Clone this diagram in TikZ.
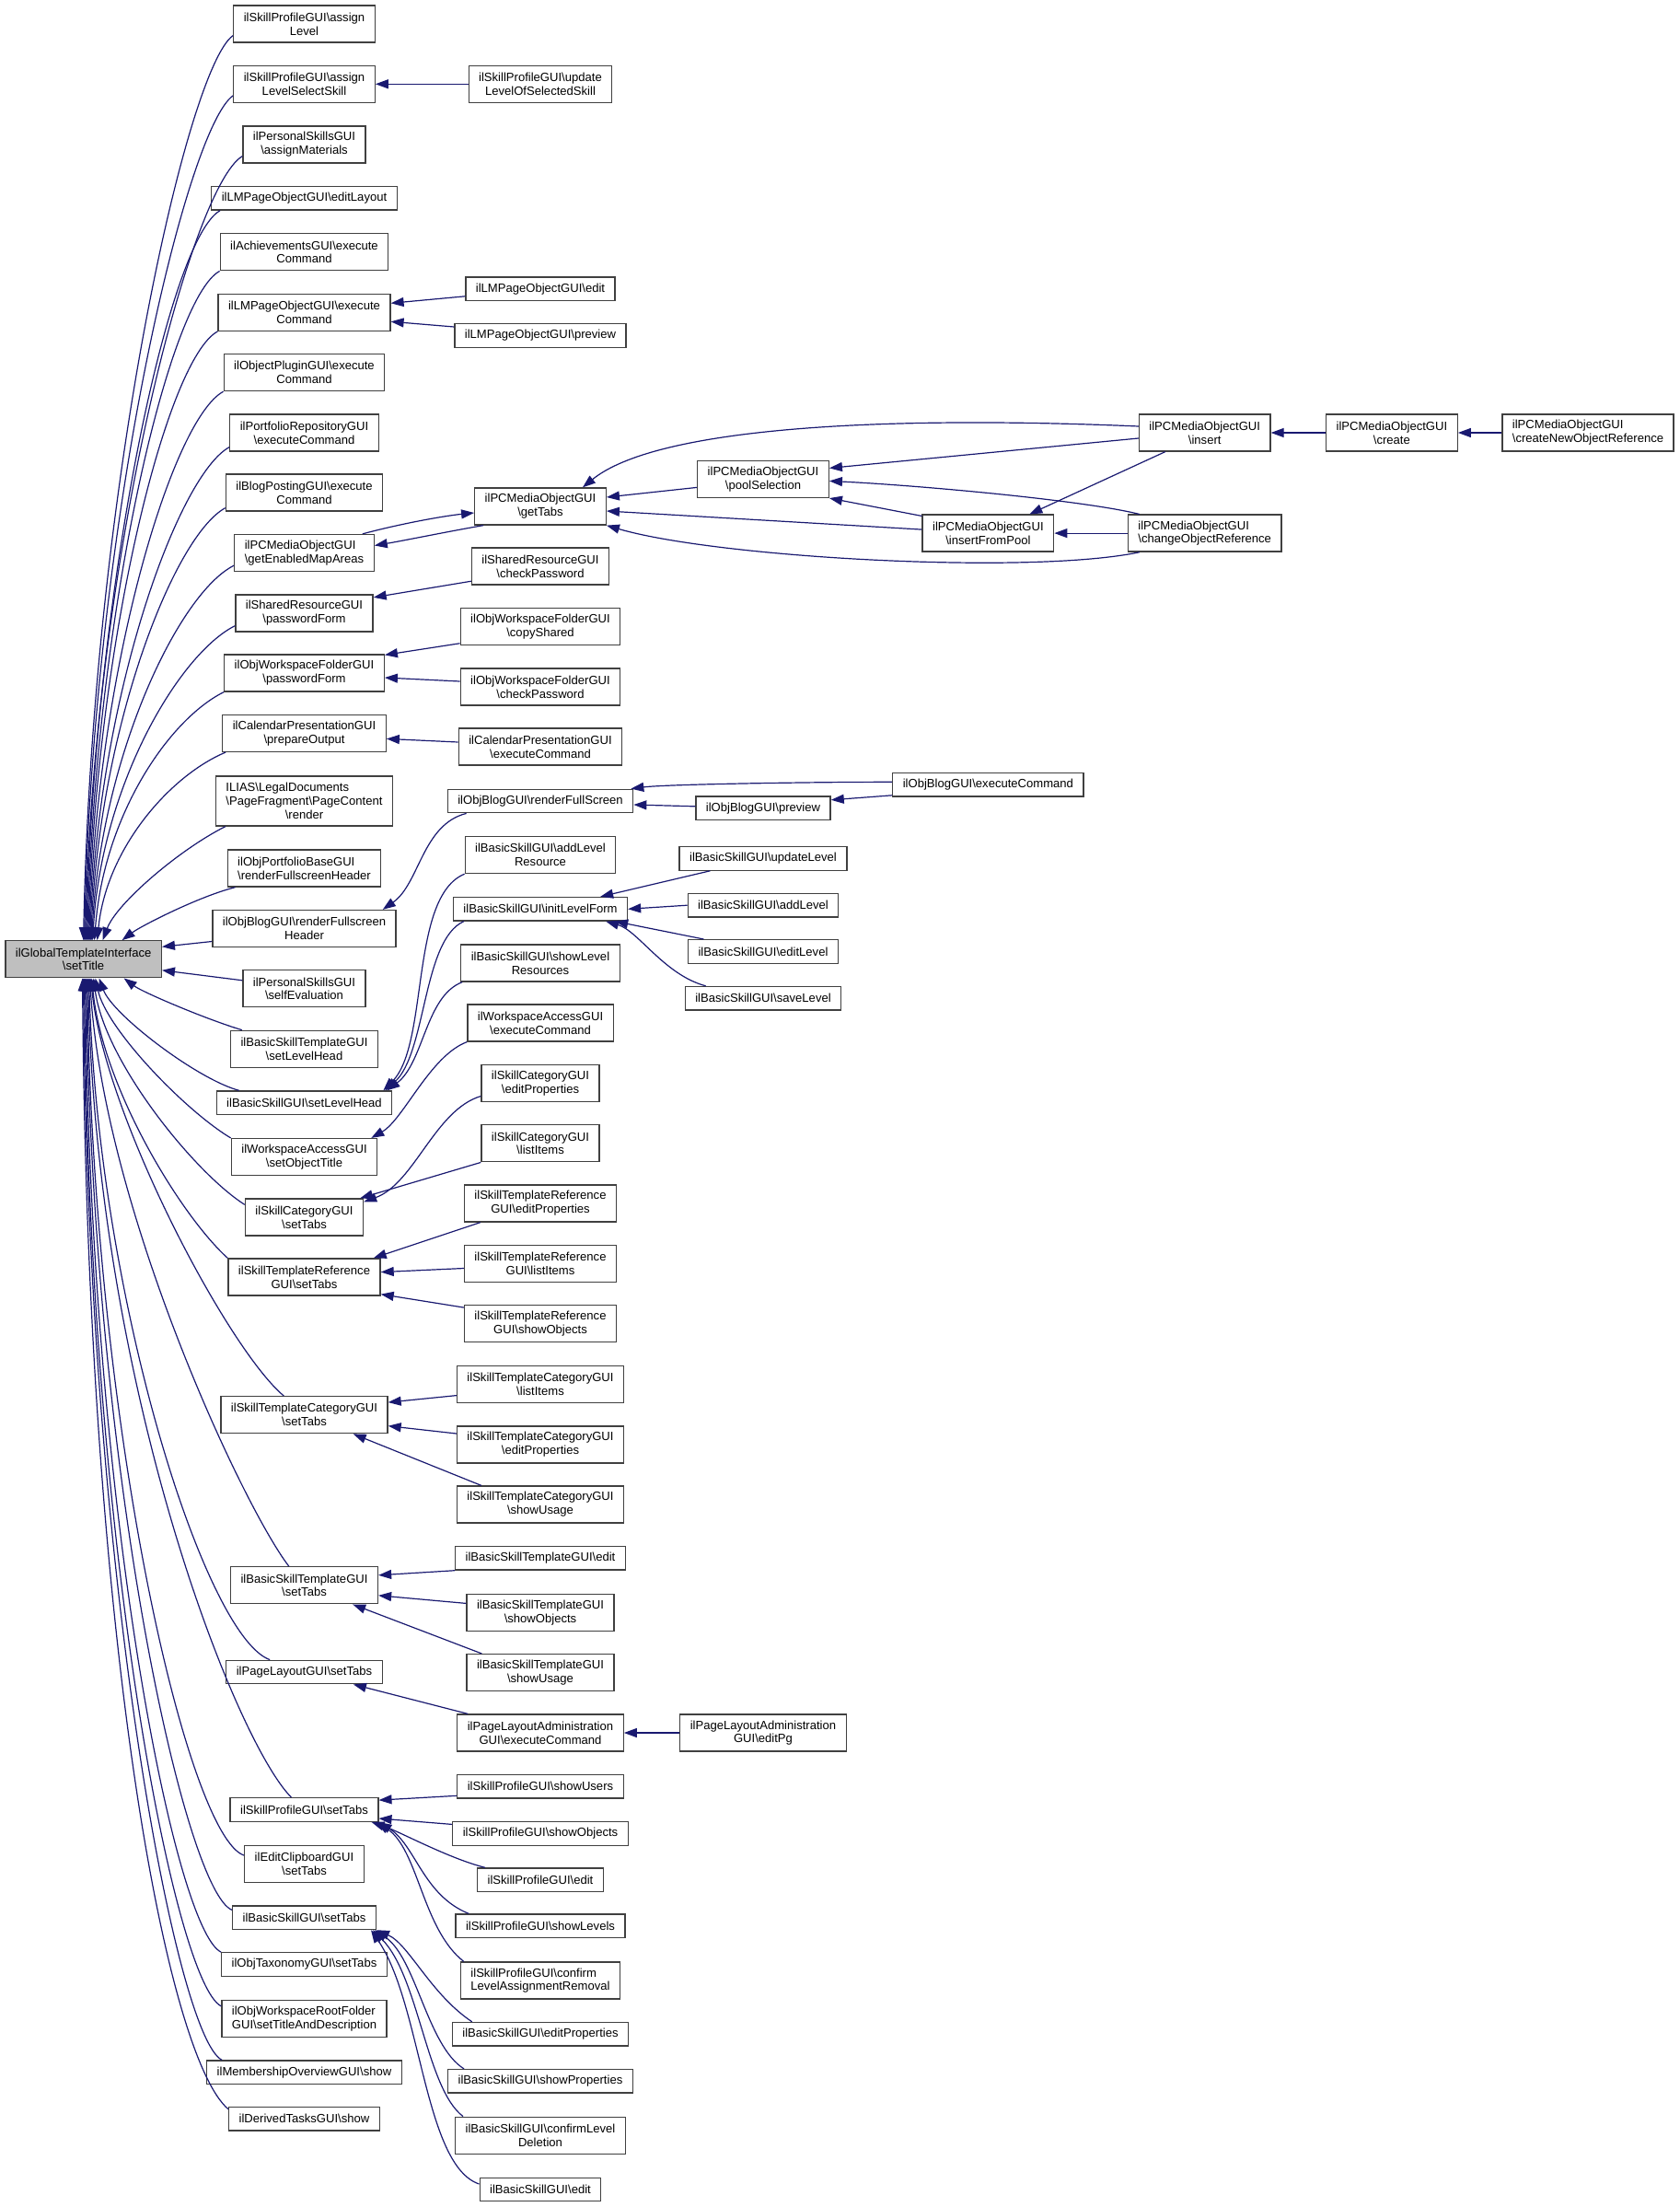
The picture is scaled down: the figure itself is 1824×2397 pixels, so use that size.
\documentclass[tikz,border=0pt]{standalone}
\usepackage{fontspec}
\setmainfont{Liberation Sans}
\usetikzlibrary{arrows.meta}

\definecolor{edgeblue}{RGB}{25,25,112}
\definecolor{rootgray}{RGB}{191,191,191}
\newcommand{\bsl}{\textbackslash}

\tikzset{
	fn/.style={draw=black!75, line width=1.3pt, fill=white, inner xsep=11pt, inner ysep=2pt,
		minimum height=25.5pt, align=center, font=\fontsize{13.07}{14.8}\selectfont},
	tall/.style={minimum height=40pt},
	taller/.style={minimum height=54pt},
	call/.style={edgeblue, line width=1.2pt, {Triangle[length=14pt,width=10pt]}-}
}

\begin{document}
\begin{tikzpicture}[x=1pt,y=-1pt]
		\useasboundingbox (0,0) rectangle (1824,2397);

		% the function that is called
		\node[fn,tall,fill=rootgray] (root) at (90.6,1041.8) {ilGlobalTemplateInterface\\\bsl setTitle};

		% direct callers
		\node[fn,tall] (assignLevel) at (330.5,26) {ilSkillProfileGUI\bsl assign\\Level};
		\node[fn,tall] (assignSelect) at (330.5,91.3) {ilSkillProfileGUI\bsl assign\\LevelSelectSkill};
		\node[fn,tall] (assignMat) at (330.5,157) {ilPersonalSkillsGUI\\\bsl assignMaterials};
		\node[fn] (editLayout) at (330.5,215.3) {ilLMPageObjectGUI\bsl editLayout};
		\node[fn,tall] (achExec) at (330.5,273.8) {ilAchievementsGUI\bsl execute\\Command};
		\node[fn,tall] (lmExec) at (330.5,339.3) {ilLMPageObjectGUI\bsl execute\\Command};
		\node[fn,tall] (pluginExec) at (330.5,404.6) {ilObjectPluginGUI\bsl execute\\Command};
		\node[fn,tall] (portRepoExec) at (330.5,470) {ilPortfolioRepositoryGUI\\\bsl executeCommand};
		\node[fn,tall] (blogPostExec) at (330.5,535) {ilBlogPostingGUI\bsl execute\\Command};
		\node[fn,tall,align=left] (mapAreas) at (330.5,600.5) {ilPCMediaObjectGUI\\\bsl getEnabledMapAreas};
		\node[fn,tall] (sharedPwForm) at (330.5,666) {ilSharedResourceGUI\\\bsl passwordForm};
		\node[fn,tall] (wsPwForm) at (330.5,731) {ilObjWorkspaceFolderGUI\\\bsl passwordForm};
		\node[fn,tall] (calPrepare) at (330.5,796.4) {ilCalendarPresentationGUI\\\bsl prepareOutput};
		\node[fn,taller] (legalRender) at (330.5,870) {\rlap{ILIAS\bsl LegalDocuments}\phantom{\bsl PageFragment\bsl PageContent}\\\bsl PageFragment\bsl PageContent\\\bsl render};
		\node[fn,tall,align=left] (portHeader) at (330.5,943) {ilObjPortfolioBaseGUI\\\bsl renderFullscreenHeader};
		\node[fn,tall] (blogHeader) at (330.5,1008.5) {ilObjBlogGUI\bsl renderFullscreen\\Header};
		\node[fn,tall] (selfEval) at (330.5,1073.8) {ilPersonalSkillsGUI\\\bsl selfEvaluation};
		\node[fn,tall] (tplLevelHead) at (330.5,1139.3) {ilBasicSkillTemplateGUI\\\bsl setLevelHead};
		\node[fn] (levelHead) at (330.5,1197.7) {ilBasicSkillGUI\bsl setLevelHead};
		\node[fn,tall] (wsTitle) at (330.5,1256.6) {ilWorkspaceAccessGUI\\\bsl setObjectTitle};
		\node[fn,tall] (catTabs) at (330.5,1322) {ilSkillCategoryGUI\\\bsl setTabs};
		\node[fn,tall] (refTabs) at (330.5,1387) {ilSkillTemplateReference\\GUI\bsl setTabs};
		\node[fn,tall] (tcatTabs) at (330.5,1536.7) {ilSkillTemplateCategoryGUI\\\bsl setTabs};
		\node[fn,tall] (tplTabs) at (330.5,1721.8) {ilBasicSkillTemplateGUI\\\bsl setTabs};
		\node[fn] (layoutTabs) at (330.5,1816) {ilPageLayoutGUI\bsl setTabs};
		\node[fn] (profTabs) at (330.5,1965.5) {ilSkillProfileGUI\bsl setTabs};
		\node[fn,tall] (clipTabs) at (330.5,2024.7) {ilEditClipboardGUI\\\bsl setTabs};
		\node[fn] (skillTabs) at (330.5,2082.8) {ilBasicSkillGUI\bsl setTabs};
		\node[fn] (taxTabs) at (330.5,2133.5) {ilObjTaxonomyGUI\bsl setTabs};
		\node[fn,tall,align=left] (rootFolder) at (330.5,2192.5) {ilObjWorkspaceRootFolder\\GUI\bsl setTitleAndDescription};
		\node[fn] (membership) at (330.5,2250.7) {ilMembershipOverviewGUI\bsl show};
		\node[fn] (derived) at (330.5,2301.2) {ilDerivedTasksGUI\bsl show};

		% second rank
		\node[fn,tall] (updateSel) at (587,91.3) {ilSkillProfileGUI\bsl update\\LevelOfSelectedSkill};
		\node[fn] (lmEdit) at (587,313.8) {ilLMPageObjectGUI\bsl edit};
		\node[fn] (lmPreview) at (587,364.5) {ilLMPageObjectGUI\bsl preview};
		\node[fn,tall] (getTabs) at (587,550) {ilPCMediaObjectGUI\\\bsl getTabs};
		\node[fn,tall] (sharedCheck) at (587,615) {ilSharedResourceGUI\\\bsl checkPassword};
		\node[fn,tall] (wsCopy) at (587,680.6) {ilObjWorkspaceFolderGUI\\\bsl copyShared};
		\node[fn,tall] (wsCheck) at (587,746) {ilObjWorkspaceFolderGUI\\\bsl checkPassword};
		\node[fn,tall] (calExec) at (587,811) {ilCalendarPresentationGUI\\\bsl executeCommand};
		\node[fn] (renderFull) at (587,870) {ilObjBlogGUI\bsl renderFullScreen};
		\node[fn,tall] (addLevelRes) at (587,928.6) {ilBasicSkillGUI\bsl addLevel\\Resource};
		\node[fn] (initForm) at (587,987.3) {ilBasicSkillGUI\bsl initLevelForm};
		\node[fn,tall] (showLevelRes) at (587,1046) {ilBasicSkillGUI\bsl showLevel\\Resources};
		\node[fn,tall] (wsExec) at (587,1111) {ilWorkspaceAccessGUI\\\bsl executeCommand};
		\node[fn,tall] (catEdit) at (587,1176.5) {ilSkillCategoryGUI\\\bsl editProperties};
		\node[fn,tall] (catList) at (587,1241.8) {ilSkillCategoryGUI\\\bsl listItems};
		\node[fn,tall] (refEdit) at (587,1307) {ilSkillTemplateReference\\GUI\bsl editProperties};
		\node[fn,tall] (refList) at (587,1372.5) {ilSkillTemplateReference\\GUI\bsl listItems};
		\node[fn,tall] (refShow) at (587,1437.7) {ilSkillTemplateReference\\GUI\bsl showObjects};
		\node[fn,tall] (tcatList) at (587,1503.6) {ilSkillTemplateCategoryGUI\\\bsl listItems};
		\node[fn,tall] (tcatEdit) at (587,1569) {ilSkillTemplateCategoryGUI\\\bsl editProperties};
		\node[fn,tall] (tcatUsage) at (587,1634) {ilSkillTemplateCategoryGUI\\\bsl showUsage};
		\node[fn] (tplEdit) at (587,1692.3) {ilBasicSkillTemplateGUI\bsl edit};
		\node[fn,tall] (tplShow) at (587,1751.4) {ilBasicSkillTemplateGUI\\\bsl showObjects};
		\node[fn,tall] (tplUsage) at (587,1816.6) {ilBasicSkillTemplateGUI\\\bsl showUsage};
		\node[fn,tall] (layoutExec) at (587,1882) {ilPageLayoutAdministration\\GUI\bsl executeCommand};
		\node[fn] (profUsers) at (587,1940.3) {ilSkillProfileGUI\bsl showUsers};
		\node[fn] (profObjects) at (587,1991.4) {ilSkillProfileGUI\bsl showObjects};
		\node[fn] (profEdit) at (587,2041.7) {ilSkillProfileGUI\bsl edit};
		\node[fn] (profLevels) at (587,2091.8) {ilSkillProfileGUI\bsl showLevels};
		\node[fn,tall,align=left] (profConfirm) at (587,2151) {ilSkillProfileGUI\bsl confirm\\LevelAssignmentRemoval};
		\node[fn] (skillEditProps) at (587,2209.2) {ilBasicSkillGUI\bsl editProperties};
		\node[fn] (skillShowProps) at (587,2260.3) {ilBasicSkillGUI\bsl showProperties};
		\node[fn,tall] (skillConfirm) at (587,2319.2) {ilBasicSkillGUI\bsl confirmLevel\\Deletion};
		\node[fn] (skillEdit) at (587,2378) {ilBasicSkillGUI\bsl edit};

		% further ranks
		\node[fn,tall] (poolSel) at (829,520.4) {ilPCMediaObjectGUI\\\bsl poolSelection};
		\node[fn] (blogPreview) at (829,877.8) {ilObjBlogGUI\bsl preview};
		\node[fn] (updateLevel) at (829,932.4) {ilBasicSkillGUI\bsl updateLevel};
		\node[fn] (addLevel) at (829,983.2) {ilBasicSkillGUI\bsl addLevel};
		\node[fn] (editLevel) at (829,1033.4) {ilBasicSkillGUI\bsl editLevel};
		\node[fn] (saveLevel) at (829,1084.2) {ilBasicSkillGUI\bsl saveLevel};
		\node[fn,tall] (layoutEditPg) at (829,1882) {ilPageLayoutAdministration\\GUI\bsl editPg};
		\node[fn,tall] (insertPool) at (1073.4,579.1) {ilPCMediaObjectGUI\\\bsl insertFromPool};
		\node[fn] (blogExec) at (1073.4,852.3) {ilObjBlogGUI\bsl executeCommand};
		\node[fn,tall] (insert) at (1308.7,470) {ilPCMediaObjectGUI\\\bsl insert};
		\node[fn,tall,align=left] (changeRef) at (1308.7,579.1) {ilPCMediaObjectGUI\\\bsl changeObjectReference};
		\node[fn,tall] (create) at (1511.9,470) {ilPCMediaObjectGUI\\\bsl create};
		\node[fn,tall,align=left] (createRef) at (1725,470) {ilPCMediaObjectGUI\\\bsl createNewObjectReference};

		% callers above the root
		\draw[call] ([xshift=0]root.north) .. controls +(10,-490) and +(-50,35) .. ([yshift=8]assignLevel.south west);
		\draw[call] ([xshift=1]root.north) .. controls +(10,-460) and +(-50,35) .. ([yshift=8]assignSelect.south west);
		\draw[call] ([xshift=2]root.north) .. controls +(10,-420) and +(-55,32) .. ([yshift=8]assignMat.south west);
		\draw[call] ([xshift=3]root.north) .. controls +(10,-390) and +(-55,30) .. ([xshift=10]editLayout.south west);
		\draw[call] ([xshift=4]root.north) .. controls +(10,-360) and +(-55,30) .. (achExec.south west);
		\draw[call] ([xshift=5]root.north) .. controls +(10,-330) and +(-55,30) .. (lmExec.south west);
		\draw[call] ([xshift=6]root.north) .. controls +(10,-300) and +(-55,30) .. (pluginExec.south west);
		\draw[call] ([xshift=7]root.north) .. controls +(10,-270) and +(-55,30) .. ([yshift=5]portRepoExec.south west);
		\draw[call] ([xshift=8]root.north) .. controls +(10,-235) and +(-55,30) .. ([yshift=4]blogPostExec.south west);
		\draw[call] ([xshift=9]root.north) .. controls +(10,-200) and +(-60,30) .. ([yshift=7]mapAreas.south west);
		\draw[call] ([xshift=10]root.north) .. controls +(10,-170) and +(-60,30) .. ([yshift=7]sharedPwForm.south west);
		\draw[call] ([xshift=12]root.north) .. controls +(10,-135) and +(-60,30) .. (wsPwForm.south west);
		\draw[call] ([xshift=15]root.north) .. controls +(10,-100) and +(-60,25) .. ([xshift=4]calPrepare.south west);
		\draw[call] ([xshift=21]root.north) .. controls +(15,-40) and +(-50,25) .. ([xshift=11]legalRender.south west);
		\draw[call] ([xshift=42]root.north) .. controls +(20,-15) and +(-40,10) .. ([xshift=9]portHeader.south west);

		% callers beside the root
		\draw[call] ([yshift=13.5]root.east) -- ([yshift=-14]blogHeader.west);
		\draw[call] ([yshift=-12]root.east) -- ([yshift=9]selfEval.west);

		% callers below the root
		\draw[call] ([xshift=44]root.south) .. controls +(20,15) and +(-40,-12) .. ([xshift=13]tplLevelHead.north west);
		\draw[call] ([xshift=17]root.south) .. controls +(15,40) and +(-45,-12) .. ([xshift=25]levelHead.north west);
		\draw[call] ([xshift=13]root.south) .. controls +(12,55) and +(-50,-30) .. (wsTitle.north west);
		\draw[call] ([xshift=11]root.south) .. controls +(12,90) and +(-55,-35) .. ([yshift=-7]catTabs.north west);
		\draw[call] ([xshift=9]root.south) .. controls +(12,120) and +(-50,-45) .. (refTabs.north west);
		\draw[call] ([xshift=8]root.south) .. controls +(15,150) and +(-60,-50) .. ([xshift=69]tcatTabs.north west);
		\draw[call] ([xshift=7]root.south) .. controls +(15,250) and +(-50,-65) .. ([xshift=64]tplTabs.north west);
		\draw[call] ([xshift=6]root.south) .. controls +(10,350) and +(-70,-25) .. ([xshift=48]layoutTabs.north west);
		\draw[call] ([xshift=5]root.south) .. controls +(10,450) and +(-60,-60) .. ([xshift=67]profTabs.north west);
		\draw[call] ([xshift=4]root.south) .. controls +(8,500) and +(-60,-20) .. ([yshift=-11]clipTabs.north west);
		\draw[call] ([xshift=3]root.south) .. controls +(8,550) and +(-50,-20) .. ([yshift=-5]skillTabs.north west);
		\draw[call] ([xshift=2]root.south) .. controls +(6,580) and +(-50,-25) .. (taxTabs.north west);
		\draw[call] ([xshift=1]root.south) .. controls +(5,620) and +(-50,-25) .. ([yshift=-7]rootFolder.north west);
		\draw[call] ([xshift=0]root.south) .. controls +(5,650) and +(-50,-25) .. ([xshift=17]membership.north west);
		\draw[call] ([xshift=-1]root.south) .. controls +(5,700) and +(-70,-60) .. ([yshift=-3]derived.north west);

		% second rank to first rank
		\draw[call] (assignSelect.east) -- (updateSel.west);
		\draw[call] ([yshift=10]lmExec.east) -- ([yshift=-8]lmEdit.west);
		\draw[call] ([yshift=-10]lmExec.east) -- ([yshift=9.5]lmPreview.west);
		\draw[call] ([yshift=-7]getTabs.west) .. controls +(-30,3) and +(45,-12) .. ([xshift=-13]mapAreas.north east);
		\draw[call] ([yshift=8]mapAreas.east) .. controls +(30,-5) and +(-30,5) .. ([xshift=10]getTabs.south west);
		\draw[call] ([yshift=-3.5]sharedPwForm.north east) -- ([yshift=4.4]sharedCheck.south west);
		\draw[call] ([yshift=-1]wsPwForm.north east) -- ([yshift=2.5]wsCopy.south west);
		\draw[call] ([yshift=-5]wsPwForm.east) -- ([yshift=6]wsCheck.west);
		\draw[call] ([yshift=-6]calPrepare.east) -- ([yshift=5]calExec.west);
		\draw[call] ([xshift=-15]blogHeader.north east) .. controls +(40,-28) and +(-48,12) .. ([xshift=21]renderFull.south west);
		\draw[call] ([xshift=-10]levelHead.north east) .. controls +(50,-50) and +(-60,25) .. (addLevelRes.south west);
		\draw[call] ([xshift=-8]levelHead.north east) .. controls +(45,-40) and +(-45,20) .. ([xshift=12]initForm.south west);
		\draw[call] ([xshift=-6]levelHead.north east) .. controls +(40,-30) and +(-40,15) .. ([xshift=2]showLevelRes.south west);
		\draw[call] ([xshift=-7]wsTitle.north east) .. controls +(35,-20) and +(-40,15) .. (wsExec.south west);
		\draw[call] ([yshift=-4]catTabs.north east) .. controls +(55,-20) and +(-50,15) .. ([yshift=-14]catEdit.west);
		\draw[call] ([xshift=-4]catTabs.north east) -- (catList.south west);
		\draw[call] ([xshift=-8]refTabs.north east) -- ([xshift=18]refEdit.south west);
		\draw[call] ([yshift=5.4]refTabs.east) -- ([yshift=-5]refList.west);
		\draw[call] ([yshift=2]refTabs.south east) -- ([yshift=-3]refShow.north west);
		\draw[call] ([yshift=-7]tcatTabs.north east) -- ([yshift=-12]tcatList.west);
		\draw[call] ([yshift=-12]tcatTabs.east) -- ([yshift=12]tcatEdit.west);
		\draw[call] ([xshift=-38]tcatTabs.south east) -- ([xshift=27]tcatUsage.north west);
		\draw[call] ([yshift=11]tplTabs.east) -- (tplEdit.south west);
		\draw[call] ([yshift=-11]tplTabs.east) -- ([yshift=10]tplShow.west);
		\draw[call] ([xshift=-28]tplTabs.south east) -- ([xshift=17]tplUsage.north west);
		\draw[call] ([xshift=-32]layoutTabs.south east) -- ([xshift=12]layoutExec.north west);
		\draw[call] ([yshift=-3]profTabs.north east) -- ([yshift=-10]profUsers.west);
		\draw[call] ([yshift=-9.5]profTabs.east) -- ([yshift=10]profObjects.west);
		\draw[call] ([xshift=-8]profTabs.south east) .. controls +(30,10) and +(-40,-10) .. ([xshift=9]profEdit.north west);
		\draw[call] (profTabs.south east) .. controls +(40,25) and +(-50,-20) .. ([xshift=15]profLevels.north west);
		\draw[call] ([xshift=-2]profTabs.south east) .. controls +(45,30) and +(-45,-35) .. ([xshift=4]profConfirm.north west);
		\draw[call] (skillTabs.south east) .. controls +(35,15) and +(-45,-30) .. ([xshift=22]skillEditProps.north west);
		\draw[call] ([xshift=-2]skillTabs.south east) .. controls +(45,30) and +(-40,-25) .. ([xshift=18]skillShowProps.north west);
		\draw[call] ([xshift=-4]skillTabs.south east) .. controls +(50,50) and +(-40,-30) .. ([xshift=9]skillConfirm.north west);
		\draw[call] ([xshift=-6]skillTabs.south east) .. controls +(55,80) and +(-60,-20) .. ([yshift=6]skillEdit.west);

		% media object cluster
		\draw[call] ([yshift=10]getTabs.east) -- ([yshift=-9]poolSel.west);
		\draw[call] ([xshift=-26]getTabs.north east) .. controls +(80,-65) and +(-280,-12) .. ([yshift=7]insert.west);
		\draw[call] ([yshift=-5]getTabs.east) -- ([yshift=4]insertPool.west);
		\draw[call] (getTabs.south east) .. controls +(120,35) and +(-120,25) .. ([xshift=13]changeRef.south west);
		\draw[call] ([yshift=12]poolSel.east) -- ([yshift=-6]insert.west);
		\draw[call] ([yshift=-2]poolSel.east) .. controls +(100,5) and +(-60,-15) .. ([xshift=13]changeRef.north west);
		\draw[call] (poolSel.south east) -- ([yshift=-2]insertPool.north west);
		\draw[call] ([xshift=-27]insertPool.north east) -- ([xshift=29]insert.south west);
		\draw[call] (insertPool.east) -- (changeRef.west);
		\draw[call] (insert.east) -- (create.west);
		\draw[call] (create.east) -- (createRef.west);

		% blog and level forms
		\draw[call] ([xshift=-3]renderFull.north east) .. controls +(40,-5) and +(-80,0) .. ([yshift=3]blogExec.west);
		\draw[call] ([yshift=-4]renderFull.east) -- ([yshift=2]blogPreview.west);
		\draw[call] ([yshift=9]blogPreview.east) -- ([yshift=-11.5]blogExec.west);
		\draw[call] ([xshift=-30]initForm.north east) -- ([xshift=34]updateLevel.south west);
		\draw[call] (initForm.east) -- (addLevel.west);
		\draw[call] ([xshift=-14]initForm.south east) -- ([xshift=17.5]editLevel.north west);
		\draw[call] ([xshift=-24]initForm.south east) .. controls +(35,10) and +(-45,-12) .. ([xshift=23]saveLevel.north west);
		\draw[call] (layoutExec.east) -- (layoutEditPg.west);
	\end{tikzpicture}
\end{document}
